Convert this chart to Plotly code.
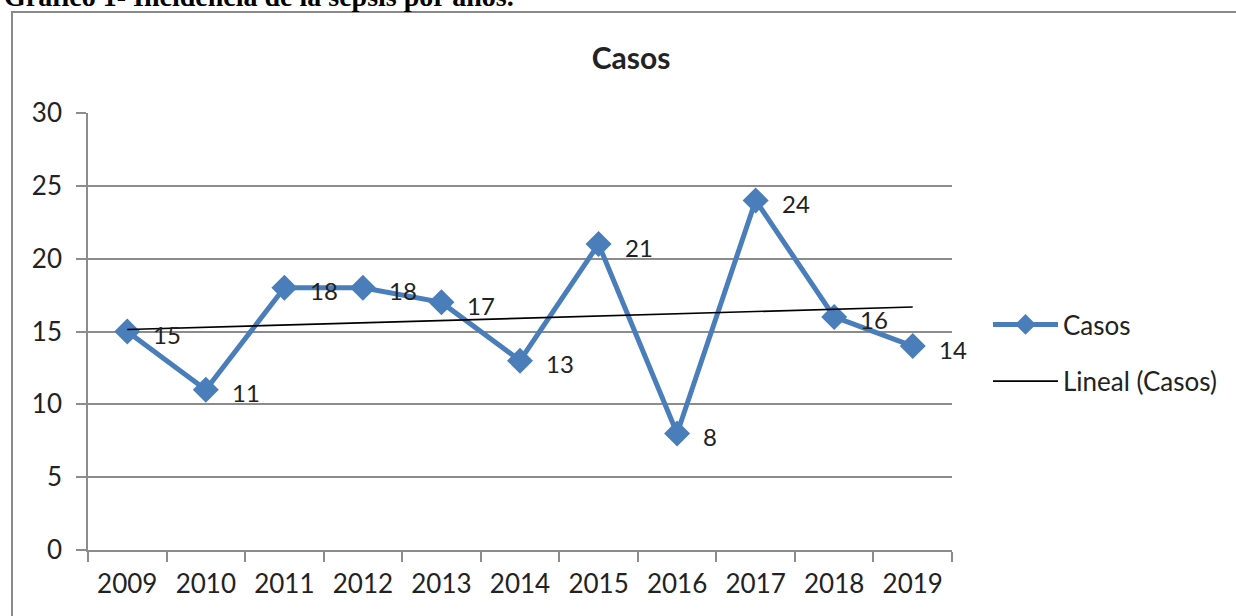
import numpy as np
import plotly.graph_objects as go

years = ["2009", "2010", "2011", "2012", "2013", "2014", "2015", "2016", "2017", "2018", "2019"]
casos = [15, 11, 18, 18, 17, 13, 21, 8, 24, 16, 14]
y_ticks = [0, 5, 10, 15, 20, 25, 30]

# Linear trend (Excel "Lineal") computed from the data
idx = np.arange(1, len(casos) + 1)
slope, intercept = np.polyfit(idx, casos, 1)
trend = list(slope * idx + intercept)

W, H = 1236, 616
L, R, T, B = 88, 952, 113, 550

def px_x(p):
    return (p - L) / (R - L)

def px_y(p):
    return (B - p) / (B - T)

FONT = "Lato"
BLUE = "#4A7EBB"
GRID = "#8c8c8c"
TXT = "#222222"

fig = go.Figure()
fig.add_trace(go.Scatter(
    x=years, y=casos, name="Casos", mode="lines+markers",
    line=dict(color=BLUE, width=5),
    marker=dict(symbol="diamond", size=20, color=BLUE),
    legendgroup="a",
))
fig.add_trace(go.Scatter(
    x=years, y=trend, name="Lineal (Casos)", mode="lines",
    line=dict(color="#000000", width=1.7),
    legendgroup="b",
))

for i, v in enumerate(casos):
    fig.add_annotation(x=i, y=v, xref="x", yref="y", text=str(v),
                       showarrow=False, xanchor="left", yanchor="middle",
                       xshift=24, yshift=-3,
                       font=dict(family=FONT, size=24, color=TXT))

# caption of the source page, cut off at the top edge as in the reference
fig.add_annotation(x=px_x(2), y=px_y(-3), xref="paper", yref="paper",
                   text="<b>Gráfico 1- Incidencia de la sepsis por años.</b>",
                   showarrow=False, xanchor="left", yanchor="middle",
                   font=dict(family="Liberation Serif", size=28, color="#000000"))

# chart border (extends beyond right/bottom edges)
fig.add_shape(type="rect", xref="paper", yref="paper",
              x0=px_x(12), x1=px_x(W + 20), y0=px_y(H + 20), y1=px_y(12),
              line=dict(color="#8a8a8a", width=2), fillcolor="rgba(0,0,0,0)",
              layer="below")

fig.update_layout(
    width=W, height=H,
    margin=dict(l=L, r=W - R, t=T, b=H - B, pad=0),
    paper_bgcolor="white", plot_bgcolor="white",
    title=dict(text="<b>Casos</b>", x=631 / W, xanchor="center", xref="container",
               y=1 - 58 / H, yanchor="middle", yref="container",
               font=dict(family=FONT, size=30, color=TXT)),
    font=dict(family=FONT, color=TXT),
    showlegend=True,
    legend=dict(x=px_x(988), y=px_y(353), xanchor="left", yanchor="middle",
                font=dict(family=FONT, size=26, color=TXT),
                itemwidth=65, tracegroupgap=20, bgcolor="rgba(0,0,0,0)"),
    xaxis=dict(type="category", range=[-0.5, 10.5], showgrid=False,
               showline=True, linecolor=GRID, linewidth=1.6,
               ticks="outside", tickson="boundaries", ticklen=10,
               tickcolor=GRID, tickwidth=1.6,
               tickfont=dict(family=FONT, size=26, color=TXT),
               ticklabelstandoff=10, fixedrange=True),
    yaxis=dict(range=[0, 30], tickvals=y_ticks, showgrid=True,
               gridcolor=GRID, gridwidth=1.6, zeroline=False,
               showline=True, linecolor=GRID, linewidth=1.6,
               ticks="outside", ticklen=10, tickcolor=GRID, tickwidth=1.6,
               tickfont=dict(family=FONT, size=26, color=TXT),
               ticklabelstandoff=9, fixedrange=True),
)

fig.write_html("out.html", config={"displayModeBar": False},
               post_script="document.body.style.margin='0';document.body.style.overflow='hidden';")
